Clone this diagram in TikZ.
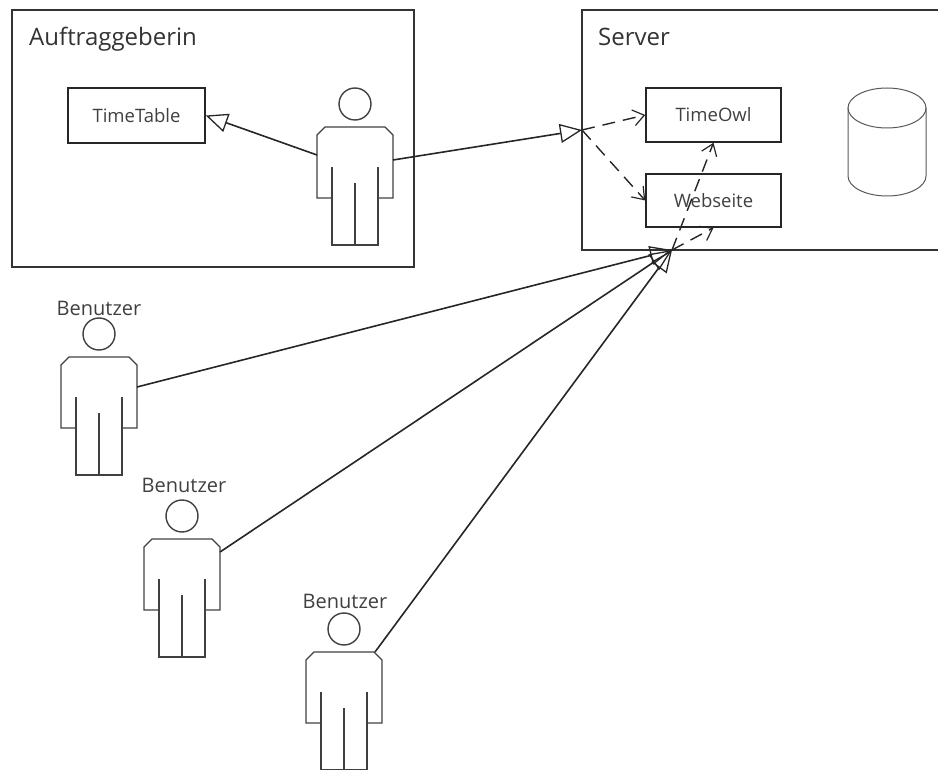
\documentclass[tikz,border=0pt]{standalone}
\usepackage{fontspec}
\setmainfont{Open Sans}
\usetikzlibrary{arrows.meta}
\tikzset{
  x=1pt,y=-1pt,
  frame/.style={draw=black!80,line width=1.4pt,inner sep=0pt},
  block/.style={draw=black!85,line width=1.5pt,fill=white,inner sep=0pt,font=\fontsize{18.5}{20}\selectfont,text=black!75},
  title/.style={font=\fontsize{24}{26}\selectfont,text=black!80,anchor=base west,inner sep=0pt},
  usertext/.style={font=\fontsize{20}{22}\selectfont,text=black!75,anchor=base,inner sep=0pt},
  hollow/.style={-{Triangle[open,length=22pt,width=19pt,line width=1.3pt]},line width=1.6pt,draw=black!85},
  depend/.style={-{Straight Barb[length=11pt,width=16pt,line width=1.2pt]},dash pattern=on 13pt off 8pt,line width=1.4pt,draw=black!85},
  figureline/.style={line width=1.4pt,draw=black!75},
  pics/person/.style={code={
    \coordinate (-W) at (-38,28);
    \coordinate (-E) at (38,33);
    \coordinate (-NE) at (31,0);
    \coordinate (-EL) at (38,30);
    \coordinate (-EH) at (38,13);
    \draw[figureline] (0,-23) circle[radius=16];
    \draw[figureline] (-23,71) -- (-38,71) -- (-38,8) -- (-30,0) -- (30,0) -- (38,8) -- (38,71) -- (23,71);
    \draw[figureline] (-23,40) -- (-23,118) -- (23,118) -- (23,40);
    \draw[figureline] (0,56) -- (0,118);
  }}
}
\begin{document}
\begin{tikzpicture}
\useasboundingbox (0,0) rectangle (938,770);
\clip (0,0) rectangle (938,770);
\node[frame,minimum width=402pt,minimum height=257pt] (boxA) at (213,138.5) {};
\node[frame,minimum width=380pt,minimum height=240pt] (boxS) at (772,130) {};
\node[title] (tA) at (29,46) {Auftraggeberin};
\node[title] (tS) at (598,46) {Server};
\node[block,minimum width=137pt,minimum height=55pt] (table) at (136.5,115.5) {TimeTable};
\node[block,minimum width=135pt,minimum height=54pt] (owl) at (713.5,115) {TimeOwl};
\node[block,minimum width=135pt,minimum height=53pt] (web) at (713.5,200.5) {Webseite};
\pic (client) at (355,127) {person};
\pic (u1) at (99,357) {person};
\pic (u2) at (182,539) {person};
\pic (u3) at (344,652) {person};
\node[usertext] (l1) at (99,316) {Benutzer};
\node[usertext] (l2) at (184,492) {Benutzer};
\node[usertext] (l3) at (345,608) {Benutzer};
\coordinate (j1) at (582,130);
\coordinate (j2) at (672,250);
\draw[hollow] (client-W) -- (table.east);
\draw[hollow] (client-E) -- (j1);
\draw[depend] (j1) -- (owl.west);
\draw[depend] (j1) -- (web.west);
\draw[depend] (j2) -- (web.south);
\draw[depend] (j2) -- (owl.south);
\draw[hollow] (u1-EL) -- (j2);
\draw[hollow] (u2-EH) -- (j2);
\draw[hollow] (u3-NE) -- (j2);
\draw[line width=1pt,draw=black!65] (848,108) -- (848,176) arc[start angle=180,end angle=360,x radius=39,y radius=-20] -- (926,108);
\draw[line width=1pt,draw=black!65] (887,108) ellipse[x radius=39,y radius=20];
\end{tikzpicture}
\end{document}
